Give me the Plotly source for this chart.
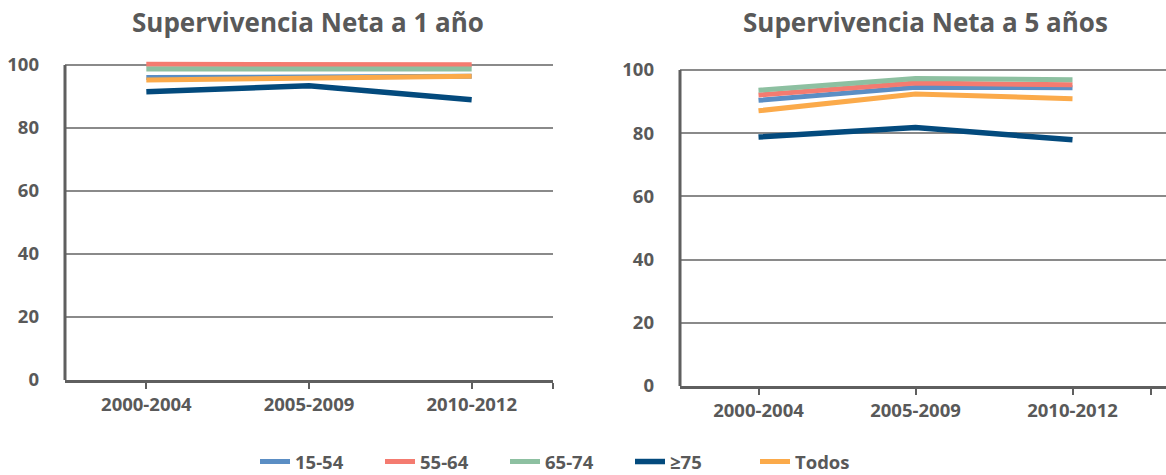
import plotly.graph_objects as go

# ---- data -------------------------------------------------------------
periodos = ["2000-2004", "2005-2009", "2010-2012"]
grupos = ["15-54", "55-64", "65-74", "≥75", "Todos"]
colores = ["#5B8EC4", "#F47B70", "#8DC0A1", "#034A7D", "#FBAA4A"]

# Supervivencia neta a 1 año (%)
uno_15_54 = [96.0, 96.3, 96.4]
uno_55_64 = [100.2, 100.2, 100.1]
uno_65_74 = [98.7, 98.7, 98.7]
uno_75 = [91.5, 93.4, 89.0]
uno_todos = [95.2, 95.9, 96.4]

# Supervivencia neta a 5 años (%)
cinco_15_54 = [90.4, 94.5, 94.4]
cinco_55_64 = [92.1, 95.9, 95.3]
cinco_65_74 = [93.6, 97.3, 96.9]
cinco_75 = [78.8, 81.8, 77.9]
cinco_todos = [87.1, 92.4, 90.9]

y_ticks = [0, 20, 40, 60, 80, 100]

# ---- styling ----------------------------------------------------------
W, H = 1166, 475
TXT = "#595959"
AXIS = "#5f5f5f"
GRID = "#8a8a8a"
FONT = "Open Sans"
anchos = [5, 5, 5, 5.5, 5]

fig = go.Figure()

series_1 = [uno_15_54, uno_55_64, uno_65_74, uno_75, uno_todos]
series_5 = [cinco_15_54, cinco_55_64, cinco_65_74, cinco_75, cinco_todos]

for nombre, color, ancho, vals in zip(grupos, colores, anchos, series_1):
    fig.add_trace(go.Scatter(
        x=periodos, y=vals, name=nombre, mode="lines",
        line=dict(color=color, width=ancho),
        xaxis="x", yaxis="y", legendgroup=nombre, showlegend=True,
        hovertemplate="%{x}: %{y}<extra>" + nombre + "</extra>",
    ))

for nombre, color, ancho, vals in zip(grupos, colores, anchos, series_5):
    fig.add_trace(go.Scatter(
        x=periodos, y=vals, name=nombre, mode="lines",
        line=dict(color=color, width=ancho),
        xaxis="x2", yaxis="y2", legendgroup=nombre, showlegend=False,
        hovertemplate="%{x}: %{y}<extra>" + nombre + "</extra>",
    ))

tick_font = dict(family=FONT, size=18.5, color=TXT, weight="bold")

# tick positions: one per period plus a closing tick at the axis end
n = len(periodos)
pos_ticks = list(range(n)) + [n - 0.5]
cat_ticks = periodos + [n - 0.5]
cat_text = periodos + [""]

left_dom = [65 / W, 553 / W]
right_dom = [680 / W, 1.0]
left_range = [-0.5, n - 0.5]
right_range = [-0.5, n - 0.5 + 15 / 157]


def x_main(domain, rng, anchor):
    return dict(
        domain=domain, type="category", range=rng, anchor=anchor,
        showline=True, linecolor=AXIS, linewidth=3,
        showgrid=False, zeroline=False,
        tickmode="array", tickvals=cat_ticks, ticktext=cat_text,
        ticks="outside", ticklen=6, tickwidth=2, tickcolor=AXIS,
        tickfont=tick_font, ticklabelstandoff=0,
        fixedrange=True,
    )


def x_inner(over, rng, anchor):
    return dict(
        overlaying=over, type="linear", range=rng, anchor=anchor,
        showline=False, showgrid=False, zeroline=False,
        tickmode="array", tickvals=pos_ticks,
        ticks="inside", ticklen=6, tickwidth=2, tickcolor=AXIS,
        showticklabels=False, fixedrange=True,
    )


def y_main(bottom_px, px_per_unit, top_val, anchor):
    top_px = bottom_px - top_val * px_per_unit
    return dict(
        domain=[(H - bottom_px) / H, (H - top_px) / H],
        range=[0, top_val], anchor=anchor,
        tickmode="array", tickvals=y_ticks,
        showgrid=True, gridcolor=GRID, gridwidth=1.5,
        zeroline=False, showline=False, ticks="",
        tickfont=tick_font, ticklabelstandoff=25,
        fixedrange=True,
    )


fig.update_layout(
    width=W, height=H,
    margin=dict(l=0, r=0, t=0, b=0, autoexpand=False),
    paper_bgcolor="white", plot_bgcolor="white",
    font=dict(family=FONT, color=TXT),
    xaxis=x_main(left_dom, left_range, "y"),
    xaxis2=x_main(right_dom, right_range, "y2"),
    xaxis3=x_inner("x", left_range, "y"),
    xaxis4=x_inner("x2", right_range, "y2"),
    yaxis=y_main(380, 3.15, 102, "x"),
    yaxis2=y_main(386, 3.16, 102, "x2"),
    legend=dict(
        orientation="h", x=255 / W, xanchor="left", y=-6 / H, yanchor="bottom",
        font=dict(family=FONT, size=18.5, color=TXT, weight="bold"),
        itemwidth=30, entrywidthmode="pixels", entrywidth=80,
        bgcolor="rgba(0,0,0,0)",
    ),
    showlegend=True,
)

# vertical axis lines, from 0 up to the top tick
for xr, yr_ in (("x domain", "y"), ("x2 domain", "y2")):
    fig.add_shape(type="line", xref=xr, yref=yr_, x0=0, x1=0,
                  y0=y_ticks[0], y1=y_ticks[-1],
                  line=dict(color=AXIS, width=3), layer="above")

titulos = ["Supervivencia Neta a 1 año", "Supervivencia Neta a 5 años"]
for titulo, cx in zip(titulos, (308 / W, 925 / W)):
    fig.add_annotation(
        text=titulo, xref="paper", yref="paper", x=cx, y=1 - 22 / H,
        xanchor="center", yanchor="middle", showarrow=False,
        font=dict(family=FONT, size=26, color=TXT, weight="bold"),
    )

fig.write_html("out.html")
